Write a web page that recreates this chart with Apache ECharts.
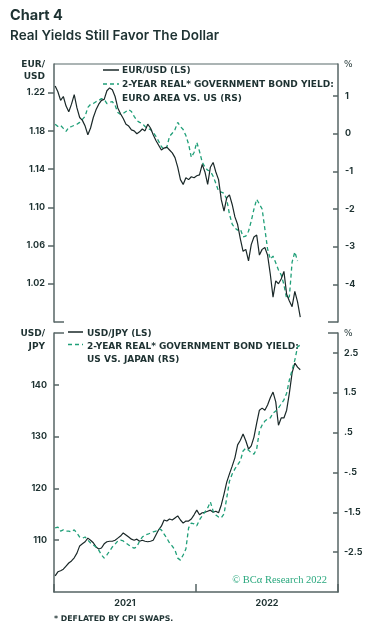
<!DOCTYPE html>
<html><head><meta charset="utf-8">
<script src="https://cdn.jsdelivr.net/npm/echarts@6/dist/echarts.min.js"></script>
<style>html,body{margin:0;padding:0;background:#fff}#c{width:385px;height:634px}</style>
</head><body><div id="c"></div>
<script>
// weekly observations starting Monday 2021-01-04
const startDate = [2021, 0, 4];
const eurusd = [
1.227,1.221,1.212,1.216,1.206,1.200,1.208,1.218,1.204,1.194,
1.191,1.185,1.176,1.183,1.194,1.202,1.208,1.212,1.213,1.222,
1.225,1.223,1.216,1.204,1.198,1.193,1.187,1.185,1.181,1.180,
1.177,1.179,1.182,1.180,1.187,1.183,1.176,1.170,1.165,1.160,
1.162,1.163,1.160,1.157,1.152,1.142,1.129,1.124,1.131,1.129,
1.132,1.131,1.133,1.134,1.145,1.137,1.124,1.142,1.147,1.137,
1.129,1.108,1.096,1.110,1.113,1.103,1.090,1.082,1.067,1.054,
1.056,1.044,1.061,1.069,1.071,1.050,1.056,1.058,1.050,1.030,
1.006,1.023,1.020,1.025,1.033,1.009,1.002,0.996,1.012,1.001,
0.985];
const euSpread = [
0.25,0.19,0.22,0.14,0.06,0.17,0.19,0.22,0.25,0.30,
0.38,0.46,0.70,0.78,0.80,0.85,0.88,0.93,0.91,0.80,
0.83,0.85,0.75,0.56,0.51,0.54,0.59,0.64,0.59,0.46,
0.35,0.30,0.27,0.19,0.14,0.11,0.03,-0.07,-0.20,-0.34,
-0.42,-0.36,-0.07,0.01,0.11,0.30,0.19,0.11,-0.05,-0.28,
-0.63,-0.50,-0.23,-0.47,-0.76,-0.89,-0.97,-1.00,-1.13,-1.32,
-1.53,-1.55,-1.58,-1.74,-2.14,-2.40,-2.51,-2.56,-2.53,-2.74,
-2.72,-2.59,-2.32,-2.00,-1.74,-1.87,-2.00,-2.53,-3.06,-3.33,
-3.25,-3.43,-3.62,-3.75,-4.01,-4.38,-4.33,-3.41,-3.14,-3.38];
const usdjpy = [
103.1,103.9,104.1,104.4,105.0,105.6,106.0,106.6,107.5,108.9,
109.3,109.7,110.4,110.0,109.5,108.7,108.3,108.5,109.3,109.7,
109.8,109.8,110.0,110.4,110.8,111.4,111.0,110.6,110.2,110.0,
110.2,109.8,110.0,109.8,109.7,109.8,110.0,111.0,112.0,112.7,
113.9,113.7,114.1,113.9,114.3,114.7,113.9,113.3,113.7,113.7,
114.1,114.9,115.8,114.9,115.3,115.4,115.6,115.8,115.4,115.6,
115.3,116.8,118.9,121.2,122.8,124.3,125.9,128.4,129.3,130.5,
129.2,127.6,128.2,129.9,132.6,135.1,135.5,135.1,136.1,137.5,
138.6,136.7,132.2,133.6,133.6,135.1,138.4,142.3,144.2,143.4,
142.9];
const jpSpread = [
-1.89,-1.87,-1.97,-1.94,-1.97,-1.97,-1.99,-1.94,-2.02,-2.12,
-2.15,-2.12,-2.20,-2.27,-2.32,-2.37,-2.45,-2.57,-2.65,-2.57,
-2.47,-2.37,-2.30,-2.22,-2.20,-2.22,-2.27,-2.32,-2.37,-2.40,
-2.37,-2.22,-2.12,-2.07,-2.05,-2.02,-1.99,-1.97,-1.92,-1.94,
-2.05,-2.15,-2.27,-2.35,-2.45,-2.65,-2.70,-2.57,-2.42,-1.89,
-1.77,-1.79,-1.84,-1.69,-1.59,-1.49,-1.39,-1.24,-1.47,-1.57,
-1.62,-1.64,-1.54,-1.14,-0.72,-0.54,-0.41,-0.31,-0.21,0.04,
0.11,0.06,-0.01,-0.04,0.09,0.54,0.69,0.79,0.84,0.87,
0.99,1.04,1.12,1.22,1.32,1.49,1.82,2.07,2.32,2.65,
2.70];
const yearLabels = ['2021', '2022'];
const topLeftTicks = [1.02, 1.06, 1.10, 1.14, 1.18, 1.22];
const topRightTicks = [-4, -3, -2, -1, 0, 1];
const botLeftTicks = [110, 120, 130, 140];
const botRightTicks = [-2.5, -1.5, -0.5, 0.5, 1.5, 2.5];

const TEXT = '#1e3232', AXIS = '#566464', BORDER = '#8f9b9b';
const BLACK = '#1a2828', GREEN = '#1f9f78', COPY = '#2aa87e';
const L = 54, W = 284, R = L + W;
const T1 = 64, H1 = 258, T2 = 333, H2 = 259;

function dateAt(i) { return Date.UTC(startDate[0], startDate[1], startDate[2] + 7 * i); }
const pairs = arr => arr.map((v, i) => [dateAt(i), v]);
const xMin = Date.UTC(2021, 0, 1), xMax = Date.UTC(2023, 0, 1);

const tickFont = { fontFamily: 'Inter', fontWeight: 700, fontSize: 9, color: TEXT };
const axLine = { show: true, lineStyle: { color: AXIS, width: 1.5 } };
const lgFont = 'bold 9px "DejaVu Sans"';

function yAx(grid, pos, min, max, ticks, inside, len, margin, fmt) {
  return {
    type: 'value', gridIndex: grid, position: pos, min: min, max: max,
    axisLine: axLine, splitLine: { show: false },
    axisTick: { show: true, inside: inside, length: len, customValues: ticks, lineStyle: { color: AXIS, width: 1.5 } },
    axisLabel: Object.assign({ customValues: ticks, margin: margin, formatter: fmt }, tickFont)
  };
}

const chart = echarts.init(document.getElementById('c'), null, { renderer: 'canvas' });
const text = (x, y, s, font, fill, align, extra) => ({
  type: 'text', x: x, y: y, silent: true,
  style: Object.assign({ text: s, font: font, fill: fill, align: align || 'left', verticalAlign: 'middle' }, extra || {})
});
const hline = (x1, y, x2, color, dash) => ({
  type: 'line', silent: true, shape: { x1: x1, y1: y, x2: x2, y2: y },
  style: { stroke: color, lineWidth: 1.5, lineDash: dash || null }
});

chart.setOption({
  animation: false,
  grid: [
    { left: L, top: T1, width: W, height: H1 },
    { left: L, top: T2, width: W, height: H2 }
  ],
  xAxis: [
    { type: 'time', gridIndex: 0, min: xMin, max: xMax, show: false },
    { type: 'time', gridIndex: 1, min: xMin, max: xMax, show: false },
    { type: 'category', gridIndex: 1, position: 'bottom', data: yearLabels, boundaryGap: true,
      axisLine: axLine,
      axisTick: { show: true, inside: true, length: 8, lineStyle: { color: AXIS, width: 1.5 } },
      axisLabel: Object.assign({ margin: 7 }, tickFont) }
  ],
  yAxis: [
    yAx(0, 'left', 0.98, 1.25, topLeftTicks, false, 6, 9, v => v.toFixed(2)),
    yAx(0, 'right', -5, 1.85, topRightTicks, true, 5, 7, v => String(v)),
    yAx(1, 'left', 100, 150, botLeftTicks, true, 5, 7, v => String(v)),
    yAx(1, 'right', -3.5, 3, botRightTicks, true, 5, 6, v => String(v).replace(/^(-?)0\./, '$1.'))
  ],
  series: [
    { type: 'line', xAxisIndex: 0, yAxisIndex: 1, data: pairs(euSpread), showSymbol: false,
      lineStyle: { color: GREEN, width: 1.3, type: [4, 3] }, z: 2 },
    { type: 'line', xAxisIndex: 0, yAxisIndex: 0, data: pairs(eurusd), showSymbol: false,
      lineStyle: { color: BLACK, width: 1.2 }, z: 3 },
    { type: 'line', xAxisIndex: 1, yAxisIndex: 2, data: pairs(usdjpy), showSymbol: false,
      lineStyle: { color: BLACK, width: 1.2 }, z: 2 },
    { type: 'line', xAxisIndex: 1, yAxisIndex: 3, data: pairs(jpSpread), showSymbol: false,
      lineStyle: { color: GREEN, width: 1.3, type: [4, 3] }, z: 3 }
  ],
  graphic: [
    text(10, 15.5, 'Chart 4', '700 14.5px Inter', TEXT),
    text(10, 36, 'Real Yields Still Favor The Dollar', '600 13.5px Inter', TEXT),
    hline(L, T1, R, BORDER),
    hline(L, T1 + H1, L + 10, AXIS), hline(R - 10, T1 + H1, R, AXIS),
    hline(L, T2, L + 10, AXIS), hline(R - 10, T2, R, AXIS),
    text(45, 65, 'EUR/', lgFont, TEXT, 'right'),
    text(45, 77, 'USD', lgFont, TEXT, 'right'),
    text(344, 65, '%', '9px "DejaVu Sans"', TEXT),
    text(45, 334, 'USD/', lgFont, TEXT, 'right'),
    text(45, 346.5, 'JPY', lgFont, TEXT, 'right'),
    text(344, 333.5, '%', '9px "DejaVu Sans"', TEXT),
    hline(103, 70, 119, BLACK), hline(103, 84, 119, GREEN, [4, 3]),
    text(122, 71, 'EUR/USD (LS)', lgFont, TEXT),
    text(122, 85, '2-YEAR REAL* GOVERNMENT BOND YIELD:', lgFont, TEXT),
    text(122, 98.5, 'EURO AREA VS. US (RS)', lgFont, TEXT),
    hline(68, 332, 83, BLACK), hline(68, 344.5, 83, GREEN, [4, 3]),
    text(87, 334, 'USD/JPY (LS)', lgFont, TEXT),
    text(87, 346.5, '2-YEAR REAL* GOVERNMENT BOND YIELD:', lgFont, TEXT),
    text(87, 359.5, 'US VS. JAPAN (RS)', lgFont, TEXT),
    text(327, 580.5, '\u00a9 BC\u03b1 Research 2022', '10.5px "Liberation Serif"', COPY, 'right'),
    text(54, 619, '* DEFLATED BY CPI SWAPS.', 'bold 7.8px "DejaVu Sans"', TEXT)
  ]
});
</script>
</body></html>
